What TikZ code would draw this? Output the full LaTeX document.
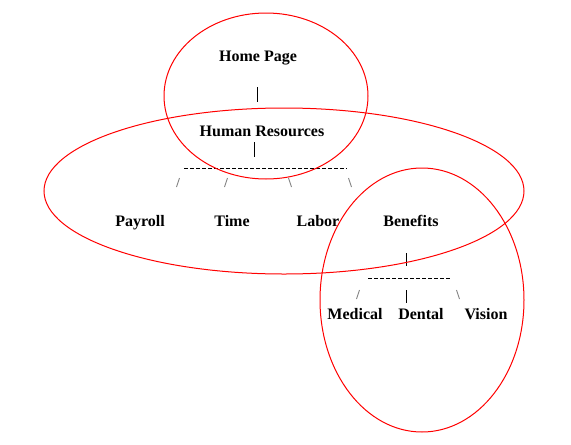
\documentclass[tikz,border=0pt]{standalone}
\usepackage{fontspec}
\setmainfont{Liberation Serif}
\begin{document}
\begin{tikzpicture}[x=1pt,y=-1pt,line width=1pt,
page/.style={font=\bfseries\fontsize{16}{19}\selectfont,inner sep=0pt,anchor=base},
group/.style={draw=red,line width=1pt},
bus/.style={draw=black,dash pattern=on 4pt off 2pt},
bar/.style={draw=black},
tick/.style={draw=gray,line width=0.8pt}]

\useasboundingbox (0,0) rectangle (571,445);

% pages
\node[page] (home) at (258,61) {Home Page};
\node[page] (hr) at (262,136) {Human Resources};
\node[page] (payroll) at (140,226) {Payroll};
\node[page] (time) at (232,226) {Time};
\node[page] (labor) at (318,226) {Labor};
\node[page] (benefits) at (411,226) {Benefits};
\node[page] (medical) at (355,319) {Medical};
\node[page] (dental) at (421,319) {Dental};
\node[page] (vision) at (486,319) {Vision};

% tree links
\coordinate (home-out) at (257,87);
\coordinate (hr-in) at (257,102);
\coordinate (hr-out) at (254,142);
\coordinate (hr-bus) at (254,157);
\coordinate (hr-bus-l) at (184,168);
\coordinate (hr-bus-r) at (347,168);
\coordinate (ben-out) at (406,253);
\coordinate (ben-bus) at (406,266);
\coordinate (ben-bus-l) at (368,278);
\coordinate (ben-bus-r) at (451,278);
\coordinate (dental-top) at (406,290);
\coordinate (dental-in) at (406,303);

\draw[bar] (home-out) -- (hr-in);
\draw[bar] (hr-out) -- (hr-bus);
\draw[bus] (hr-bus-l) -- (hr-bus-r);
\draw[bar] (ben-out) -- (ben-bus);
\draw[bus] (ben-bus-l) -- (ben-bus-r);
\draw[bar] (dental-top) -- (dental-in);

\foreach \x/\d in {178/1,226/1,290/-1,350/-1}
  \draw[tick] (\x+1.5*\d,178) -- (\x-1.5*\d,187);
\foreach \x/\d in {358/1,458/-1}
  \draw[tick] (\x+1.5*\d,290) -- (\x-1.5*\d,299);

% groups
\draw[group] (266,96) ellipse [x radius=102pt,y radius=83pt];
\draw[group] (284,191) ellipse [x radius=240pt,y radius=83pt];
\draw[group] (422,300) ellipse [x radius=102pt,y radius=132pt];
\end{tikzpicture}
\end{document}
